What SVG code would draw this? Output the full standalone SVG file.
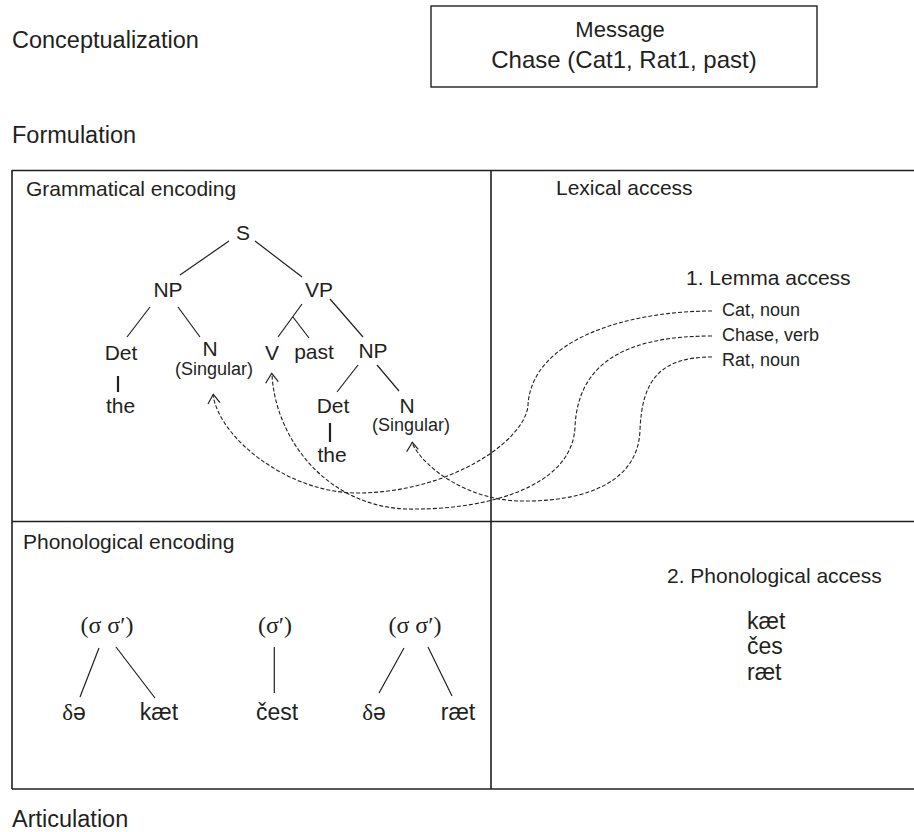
<svg xmlns="http://www.w3.org/2000/svg" width="914" height="832" viewBox="0 0 914 832">
  <style>
    text { font-family: "Liberation Sans", Arial, sans-serif; fill: #231f20; }
    .stage { font-size: 23.5px; }
    .panel { font-size: 21px; }
    .node { font-size: 21px; text-anchor: middle; }
    .sub { font-size: 18px; text-anchor: middle; }
    .lemma { font-size: 18px; }
    .phon { font-size: 23px; }
    .syl { font-family: "Liberation Serif", "Times New Roman", serif; font-size: 24px; text-anchor: middle; }
    .greek { font-family: "Liberation Serif", "Times New Roman", serif; }
    .frame { stroke: #231f20; stroke-width: 1.6; fill: none; }
    .branch { stroke: #231f20; stroke-width: 1.2; fill: none; }
    .stem { stroke: #231f20; stroke-width: 2.2; fill: none; }
    .link { stroke: #231f20; stroke-width: 1.1; fill: none; stroke-dasharray: 4 2; }
    .head { stroke: #231f20; stroke-width: 1.2; fill: none; }
  </style>

  <rect width="914" height="832" fill="#ffffff"/>

  <!-- stage labels -->
  <text class="stage" x="12" y="48">Conceptualization</text>
  <text class="stage" x="12" y="143">Formulation</text>
  <text class="stage" x="12" y="827">Articulation</text>

  <!-- message box -->
  <g id="message">
    <rect x="431" y="6" width="386" height="81" fill="none" stroke="#231f20" stroke-width="1.4"/>
    <text x="620" y="37" font-size="22" text-anchor="middle">Message</text>
    <text x="624" y="68" font-size="24" text-anchor="middle">Chase (Cat1, Rat1, past)</text>
  </g>

  <!-- formulation frame: four panels, open on the right -->
  <g id="frame">
    <path class="frame" d="M12,170.5 H914 M12,521.5 H914 M12,789 H914 M12,170 V789 M491,170 V789"/>
  </g>

  <!-- grammatical encoding panel -->
  <g id="grammatical-encoding">
    <text class="panel" x="26" y="196">Grammatical encoding</text>
    <g id="tree-lines">
      <path class="branch" d="M229,241 L180,275 M255,241 L302,277
        M150,307 L127,337 M178,307 L200,337
        M302,304 L278,337 M293,317 L309,338 M330,299 L363,337
        M358,365 L337,392 M377,365 L399,391"/>
      <path class="stem" d="M118,376 V392 M330,423 V442"/>
    </g>
    <g id="node-S"><text class="node" x="243" y="240">S</text></g>
    <g id="node-NP1"><text class="node" x="168" y="297">NP</text></g>
    <g id="node-VP"><text class="node" x="319" y="297">VP</text></g>
    <g id="node-Det1"><text class="node" x="121" y="360">Det</text></g>
    <g id="node-N1"><text class="node" x="210" y="356">N</text><text class="sub" x="214" y="375">(Singular)</text></g>
    <g id="node-V"><text class="node" x="272" y="360">V</text></g>
    <g id="node-past"><text class="node" x="314" y="359" font-size="20">past</text></g>
    <g id="node-NP2"><text class="node" x="373" y="358">NP</text></g>
    <g id="node-the1"><text class="node" x="120.5" y="413">the</text></g>
    <g id="node-Det2"><text class="node" x="333" y="413">Det</text></g>
    <g id="node-N2"><text class="node" x="407" y="413">N</text><text class="sub" x="411" y="431">(Singular)</text></g>
    <g id="node-the2"><text class="node" x="332" y="462">the</text></g>
  </g>

  <!-- lexical access panel -->
  <g id="lexical-access">
    <text class="panel" x="556" y="195">Lexical access</text>
    <text class="panel" x="686" y="285">1. Lemma access</text>
    <g id="lemma-cat"><text class="lemma" x="722" y="316">Cat, noun</text></g>
    <g id="lemma-chase"><text class="lemma" x="722" y="341">Chase, verb</text></g>
    <g id="lemma-rat"><text class="lemma" x="722" y="366">Rat, noun</text></g>
  </g>

  <!-- lemma-to-slot connectors -->
  <g id="connectors">
    <path class="link" d="M712,311 C630,311 532,338 528,405 C526,440 450,493 357,493 C290,493 220,440 213,395"/>
    <path class="link" d="M712,336 C630,336 578,360 575,427 C572,490 480,509 417,509 C330,512 275,440 272,374"/>
    <path class="link" d="M712,357 C660,357 642,380 640,430 C638,490 570,502 520,501 C470,500 425,470 412,443"/>
    <path class="head" d="M208,404 L213.3,394.3 L220,402.7"/>
    <path class="head" d="M265.7,383.3 L271.7,373.3 L278.3,381.7"/>
    <path class="head" d="M406.7,451.7 L412.3,442.3 L418.3,449.3"/>
  </g>

  <!-- phonological encoding panel -->
  <g id="phonological-encoding">
    <text class="panel" x="23" y="549">Phonological encoding</text>
    <g id="word-the1">
      <text class="syl" x="107" y="633">(σ σ′)</text>
      <path class="branch" d="M99,648 L80,697 M116,647 L155,698"/>
      <text class="phon" x="74" y="720" text-anchor="middle"><tspan class="greek">δ</tspan>ə</text>
      <text class="phon" x="159" y="720" text-anchor="middle">kæt</text>
    </g>
    <g id="word-chase">
      <text class="syl" x="275" y="633">(σ′)</text>
      <path class="branch" d="M274.3,647 V693"/>
      <text class="phon" x="277" y="720" text-anchor="middle">čest</text>
    </g>
    <g id="word-the2">
      <text class="syl" x="415" y="633">(σ σ′)</text>
      <path class="branch" d="M404,648 L379,693 M428,647 L452,696"/>
      <text class="phon" x="374" y="720" text-anchor="middle"><tspan class="greek">δ</tspan>ə</text>
      <text class="phon" x="458" y="720" text-anchor="middle">ræt</text>
    </g>
  </g>

  <!-- phonological access panel -->
  <g id="phonological-access">
    <text class="panel" x="667" y="583">2. Phonological access</text>
    <text class="phon" x="747" y="629">kæt</text>
    <text class="phon" x="747" y="654">čes</text>
    <text class="phon" x="747" y="680">ræt</text>
  </g>
</svg>
